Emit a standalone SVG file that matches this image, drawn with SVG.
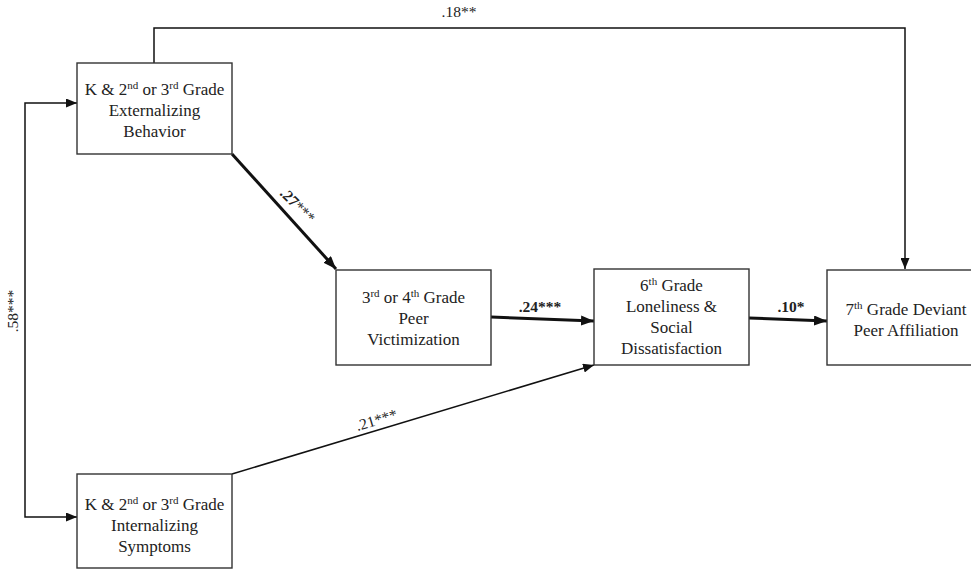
<svg xmlns="http://www.w3.org/2000/svg" width="971" height="569" viewBox="0 0 971 569">
<defs>
<marker id="ah" markerUnits="userSpaceOnUse" markerWidth="11" markerHeight="9" refX="11" refY="4.5" orient="auto-start-reverse"><path d="M0,0 L11,4.5 L0,9 z" fill="#111"/></marker>
<marker id="ahb" markerUnits="userSpaceOnUse" markerWidth="13" markerHeight="10" refX="13" refY="5" orient="auto"><path d="M0,0 L13,5 L0,10 z" fill="#111"/></marker>
</defs>
<style>
.box{fill:#fff;stroke:#333;stroke-width:1.4}
text{font-family:'Liberation Serif','DejaVu Serif',serif;fill:#222;text-anchor:middle}
.t{font-size:17px}
.sup{font-size:11px}
.lab{font-size:15.5px}
.b{font-weight:bold}
.thin{fill:none;stroke:#111;stroke-width:1.5}
.bold{fill:none;stroke:#111;stroke-width:3}
</style>
<rect width="971" height="569" fill="#fff"/>
<g id="connectors">
<path class="thin" d="M154,63 V28 H905 V269" marker-end="url(#ah)"/>
<path class="thin" d="M77,103 H25 V517 H77" marker-start="url(#ah)" marker-end="url(#ah)"/>
<path class="bold" d="M232,154 L336,269" marker-end="url(#ahb)"/>
<path class="bold" d="M491,317 L594,321" marker-end="url(#ahb)"/>
<path class="bold" d="M749,318 L827,321" marker-end="url(#ahb)"/>
<path class="thin" d="M232,474 L594,365" marker-end="url(#ah)"/>
<text class="lab" font-family="Liberation Serif, serif" x="459" y="17">.18**</text>
<text class="lab" font-family="Liberation Serif, serif" transform="translate(18,311) rotate(-90)">.58***</text>
<text class="lab" font-family="Liberation Serif, serif" transform="translate(294,209) rotate(45)"><tspan class="b">.27</tspan>***</text>
<text class="lab b" font-family="Liberation Serif, serif" x="540" y="312">.24***</text>
<text class="lab b" font-family="Liberation Serif, serif" x="791" y="312">.10*</text>
<text class="lab" font-family="Liberation Serif, serif" transform="translate(378,425) rotate(-16.7)">.21***</text>
</g>
<g id="ext" font-family="Liberation Serif, serif">
<rect class="box" x="77" y="63" width="155" height="91"/>
<text class="t" x="154.5" y="95">K &amp; 2<tspan class="sup" baseline-shift="super">nd</tspan> or 3<tspan class="sup" baseline-shift="super">rd</tspan> Grade</text>
<text class="t" x="154.5" y="116">Externalizing</text>
<text class="t" x="154.5" y="137">Behavior</text>
</g>
<g id="int" font-family="Liberation Serif, serif">
<rect class="box" x="77" y="474" width="155" height="94"/>
<text class="t" x="154.5" y="510">K &amp; 2<tspan class="sup" baseline-shift="super">nd</tspan> or 3<tspan class="sup" baseline-shift="super">rd</tspan> Grade</text>
<text class="t" x="154.5" y="531">Internalizing</text>
<text class="t" x="154.5" y="552">Symptoms</text>
</g>
<g id="vict" font-family="Liberation Serif, serif">
<rect class="box" x="336" y="270" width="155" height="95"/>
<text class="t" x="413.5" y="303">3<tspan class="sup" baseline-shift="super">rd</tspan> or 4<tspan class="sup" baseline-shift="super">th</tspan> Grade</text>
<text class="t" x="413.5" y="324">Peer</text>
<text class="t" x="413.5" y="345">Victimization</text>
</g>
<g id="lonely" font-family="Liberation Serif, serif">
<rect class="box" x="594" y="269" width="155" height="96"/>
<text class="t" x="671.5" y="291">6<tspan class="sup" baseline-shift="super">th</tspan> Grade</text>
<text class="t" x="671.5" y="312">Loneliness &amp;</text>
<text class="t" x="671.5" y="333">Social</text>
<text class="t" x="671.5" y="354">Dissatisfaction</text>
</g>
<g id="deviant" font-family="Liberation Serif, serif">
<rect class="box" x="827" y="270" width="158" height="95"/>
<text class="t" x="906" y="315">7<tspan class="sup" baseline-shift="super">th</tspan> Grade Deviant</text>
<text class="t" x="906" y="336">Peer Affiliation</text>
</g>
</svg>
